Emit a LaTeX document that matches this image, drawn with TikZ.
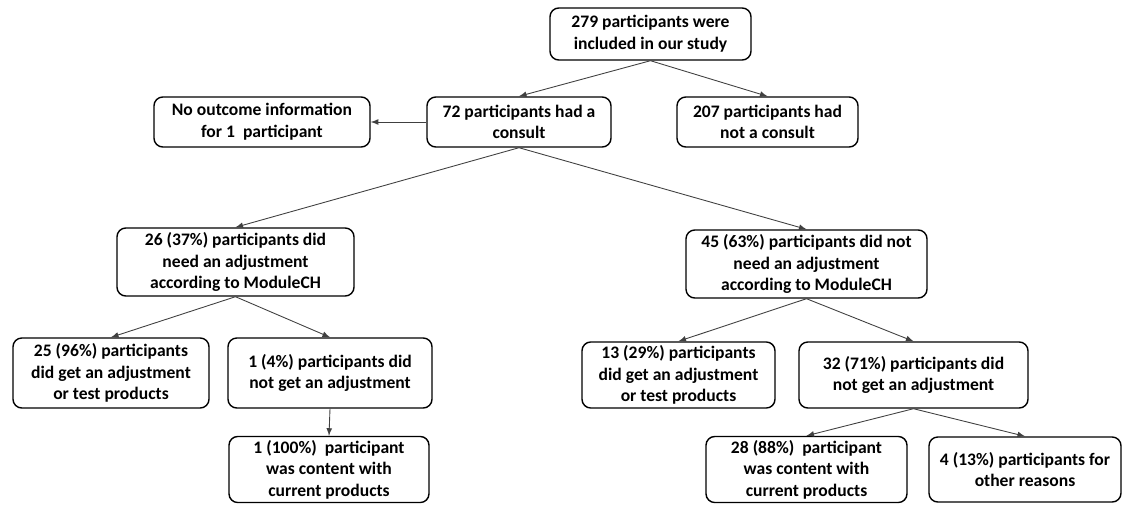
\documentclass[tikz,border=0pt]{standalone}
\usepackage{fontspec}
\setmainfont{Carlito}
\usepackage{tikz}
\usetikzlibrary{positioning}

\begin{document}
\begin{tikzpicture}[
    box/.style={draw, line width=0.8pt, rounded corners=5pt, align=center,
        font=\bfseries\fontsize{10}{12.3}\selectfont, inner sep=2pt},
    arr/.style={-latex, line width=0.5pt, black!75}
  ]
    \useasboundingbox (0,0) rectangle (22.48,-10.1);

    % top of the tree
    \node[box, minimum width=4.02cm, minimum height=1.04cm] (incl) at (13.01,-0.68)
        {279 participants were\\ included in our study};

    \node[box, minimum width=4.32cm, minimum height=1.0cm] (noinfo) at (5.24,-2.44)
        {No outcome information\\ for 1~ participant};
    \node[box, minimum width=3.68cm, minimum height=1.0cm] (consult) at (10.38,-2.44)
        {72 participants had a\\ consult};
    \node[box, minimum width=3.62cm, minimum height=1.0cm] (noconsult) at (15.35,-2.44)
        {207 participants had\\ not a consult};

    % ModuleCH
    \node[box, minimum width=4.74cm, minimum height=1.36cm] (need) at (4.71,-5.24)
        {26 (37\%) participants did\\ need an adjustment\\ according to ModuleCH};
    \node[box, minimum width=4.82cm, minimum height=1.36cm] (noneed) at (16.13,-5.28)
        {45 (63\%) participants did not\\ need an adjustment\\ according to ModuleCH};

    % left branch
    \node[box, minimum width=3.92cm, minimum height=1.4cm] (adjL) at (2.22,-7.46)
        {25 (96\%) participants\\ did get an adjustment\\ or test products};
    \node[box, minimum width=4.08cm, minimum height=1.4cm] (notadjL) at (6.6,-7.46)
        {1 (4\%) participants did\\ not get an adjustment};
    \node[box, minimum width=4.0cm, minimum height=1.3cm] (contentL) at (6.58,-9.39)
        {1 (100\%)~ participant\\ was content with\\ current products};

    % right branch
    \node[box, minimum width=3.86cm, minimum height=1.32cm] (adjR) at (13.57,-7.5)
        {13 (29\%) participants\\ did get an adjustment\\ or test products};
    \node[box, minimum width=4.58cm, minimum height=1.32cm] (notadjR) at (18.27,-7.5)
        {32 (71\%) participants did\\ not get an adjustment};
    \node[box, minimum width=4.02cm, minimum height=1.3cm] (contentR) at (16.13,-9.39)
        {28 (88\%)~ participant\\ was content with\\ current products};
    \node[box, minimum width=3.84cm, minimum height=1.3cm] (other) at (20.5,-9.39)
        {4 (13\%) participants for\\ other reasons};

    % arrows
    \draw[arr] (incl.south) -- (consult.north);
    \draw[arr] (incl.south) -- (noconsult.north);
    \draw[arr] (consult.west) -- (noinfo.east);

    \draw[arr] (consult.south) -- (need.north);
    \draw[arr] (consult.south) -- (noneed.north);

    \draw[arr] (need.south) -- (adjL.north);
    \draw[arr] (need.south) -- (notadjL.north);
    \draw[arr] (notadjL.south) -- (contentL.north);

    \draw[arr] (noneed.south) -- (adjR.north);
    \draw[arr] (noneed.south) -- (notadjR.north);
    \draw[arr] (notadjR.south) -- (contentR.north);
    \draw[arr] (notadjR.south) -- (other.north);

\end{tikzpicture}
\end{document}
